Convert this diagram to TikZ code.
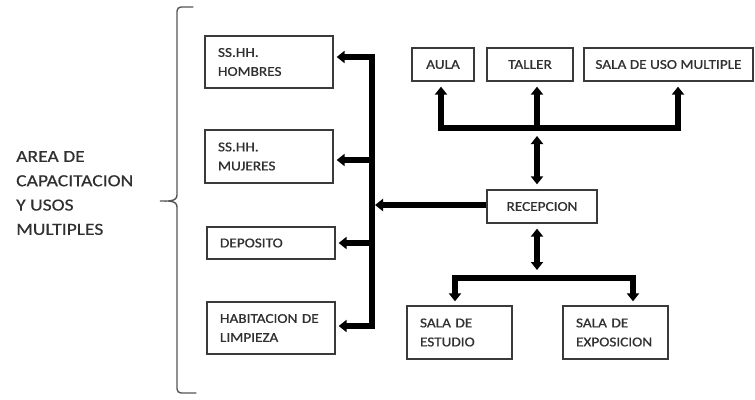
\documentclass[tikz,border=0pt]{standalone}
\usepackage{fontspec}
\setmainfont{Carlito}
\newfontfamily\boxfont{Carlito}[FakeStretch=1.13,FakeBold=0.9]
\newfontfamily\labfont{Carlito}[FakeStretch=1.15,FakeBold=0.4]
\usetikzlibrary{arrows.meta}
\definecolor{boxline}{HTML}{3A3A3A}
\definecolor{boxtext}{HTML}{303030}
\definecolor{bracecol}{HTML}{555555}
\begin{document}
\begin{tikzpicture}[x=1pt,y=-1pt,
  room/.style={draw=boxline, line width=1.3pt, rectangle, inner ysep=0pt,
    text=boxtext, font=\boxfont\fontsize{13.5}{19}\selectfont},
  roomL/.style={room, align=left, inner xsep=13pt},
  roomC/.style={room, align=center, inner xsep=0pt},
  flow/.style={line width=5.5pt, line join=miter,
    -{Triangle[width=12pt,length=8pt]}},
  flow2/.style={line width=5.5pt,
    {Triangle[width=12pt,length=8pt]}-{Triangle[width=12pt,length=8pt]}},
  bar/.style={line width=5.5pt, line join=miter}]
\useasboundingbox (0,0) rectangle (755,399);

% area label and brace
\node[anchor=west, align=left, inner sep=0pt, text=boxtext,
  font=\labfont\fontsize{17}{24.3}\selectfont] (area) at (16,193)
  {AREA DE\\CAPACITACION\\Y USOS\\MULTIPLES};
\draw[bracecol, line width=1.4pt, line cap=round]
  (193,7) -- (181,7) to[out=180,in=90] (177,11) -- (177,195)
  to[out=-90,in=0] (160,201) to[out=0,in=90] (177,207)
  -- (177,389) to[out=-90,in=180] (181,393) -- (196,393);

% rooms on the left
\node[roomL, text width=102pt, minimum height=52pt] (hom) at (269,62) {SS.HH.\\HOMBRES};
\node[roomL, text width=102pt, minimum height=53pt] (muj) at (269,156.5) {SS.HH.\\MUJERES};
\node[roomL, text width=102pt, minimum height=32pt] (dep) at (271,243) {DEPOSITO};
\node[roomL, text width=102pt, minimum height=52pt] (hab) at (271,328) {HABITACION DE\\LIMPIEZA};

% rooms on the top row
\node[roomC, minimum width=62pt, minimum height=33pt] (aula) at (443,64.5) {AULA};
\node[roomC, minimum width=86pt, minimum height=33pt] (tal) at (530,64.5) {TALLER};
\node[roomC, minimum width=169pt, minimum height=33pt] (sum) at (668.5,64.5) {SALA DE USO MULTIPLE};

% reception
\node[roomC, minimum width=110pt, minimum height=33pt] (rec) at (542,206.5) {RECEPCION};

% rooms at the bottom
\node[roomL, text width=79pt, minimum height=53pt] (est) at (459.5,332.5) {SALA DE\\ESTUDIO};
\node[roomL, text width=79pt, minimum height=53pt] (exp) at (615.5,332.5) {SALA DE\\EXPOSICION};

% left spine
\coordinate (s1) at (372,57);
\coordinate (s2) at (372,160);
\coordinate (s3) at (372,243);
\coordinate (s4) at (372,326);
\draw[flow, shorten >=3pt] (s4) -- (s1) -- (s1 -| hom.east);
\draw[flow, shorten >=3pt] (s1) -- (s4) -- (s4 -| hab.east);
\draw[flow, shorten >=3pt] (s2) -- (s2 -| muj.east);
\draw[flow, shorten >=3pt] (s3) -- (s3 -| dep.east);
\draw[flow, shorten >=3pt] (rec.west |- 0,205) -- (s1 |- 0,205);

% top branch
\coordinate (tL) at (441,128);
\coordinate (tM) at (537,128);
\coordinate (tR) at (678,128);
\draw[flow, shorten >=5pt] (tR) -- (tL) -- (tL |- aula.south);
\draw[flow, shorten >=5pt] (tL) -- (tR) -- (tR |- sum.south);
\draw[flow, shorten >=5pt] (tM) -- (tM |- tal.south);
\draw[flow2, shorten <=5pt, shorten >=8pt] (tM |- rec.north) -- (tM);

% bottom branch
\coordinate (bL) at (455,278);
\coordinate (bM) at (537,278);
\coordinate (bR) at (633,278);
\draw[flow2, shorten <=5pt, shorten >=8pt] (bM |- rec.south) -- (bM);
\draw[flow, shorten >=4pt] (bR) -- (bL) -- (bL |- est.north);
\draw[flow, shorten >=4pt] (bL) -- (bR) -- (bR |- exp.north);
\end{tikzpicture}
\end{document}
